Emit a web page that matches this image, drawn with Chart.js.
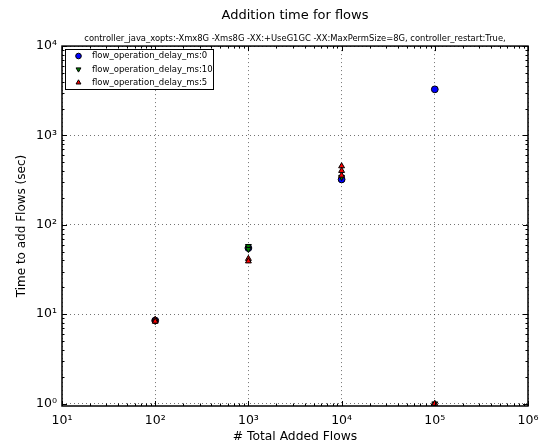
<!DOCTYPE html>
<html>
<head>
<meta charset="utf-8">
<script src="https://cdn.jsdelivr.net/npm/chart.js@4/dist/chart.umd.min.js"></script>
<style>
  html, body { margin: 0; padding: 0; background: #fff; }
</style>
</head>
<body>
<canvas id="flowChart" width="541" height="445"></canvas>
<script>
// series: delay setting, marker and colour
const seriesLabels = ["flow_operation_delay_ms:0", "flow_operation_delay_ms:10", "flow_operation_delay_ms:5"];
const seriesColors = ["#0000ff", "#008000", "#ff0000"];
const seriesMarkers = ["circle", "triangle", "triangle"];
const seriesRotation = [0, 180, 0];

// measured runs: number of flows added -> seconds
const delay0Flows = [100, 1000, 10000, 100000];
const delay0Times = [8.5, 55, 322, 3280];
const delay10Flows = [100, 1000, 1000, 10000, 100000];
const delay10Times = [8.4, 57.7, 53.4, 342, 1];
const delay5Flows = [100, 100, 1000, 1000, 10000, 10000, 10000, 100000];
const delay5Times = [8.7, 8.3, 41.8, 39.2, 454, 403, 357, 1];

const xDecades = [1e1, 1e2, 1e3, 1e4, 1e5, 1e6];
const yDecades = [1e0, 1e1, 1e2, 1e3, 1e4];

const seriesFlows = [delay0Flows, delay10Flows, delay5Flows];
const seriesTimes = [delay0Times, delay10Times, delay5Times];

const FONT = "'DejaVu Sans', sans-serif";
const SUP = "⁰¹²³⁴⁵⁶⁷⁸⁹";

function powLabel(v) {
  const e = Math.round(Math.log10(v));
  return "10" + String(e).split("").map((d) => SUP[+d]).join("");
}

// inward ticks on all four sides plus the black frame
const frameTicks = {
  id: "frameTicks",
  afterDatasetsDraw(chart) {
    const { ctx, chartArea: a, scales } = chart;
    ctx.save();
    ctx.strokeStyle = "#000";
    ctx.lineWidth = 1;
    ctx.beginPath();
    for (let d = 1; d <= 6; d++) {
      for (let m = 1; m <= 9; m++) {
        const v = m * Math.pow(10, d);
        if (v > 1e6) break;
        const px = Math.round(scales.x.getPixelForValue(v)) + 0.5;
        const len = m === 1 ? 5 : 2.5;
        ctx.moveTo(px, a.bottom); ctx.lineTo(px, a.bottom - len);
        ctx.moveTo(px, a.top); ctx.lineTo(px, a.top + len);
      }
    }
    for (let d = -1; d <= 4; d++) {
      for (let m = 1; m <= 9; m++) {
        const v = m * Math.pow(10, d);
        if (v < scales.y.min || v > scales.y.max) continue;
        const py = Math.round(scales.y.getPixelForValue(v)) + 0.5;
        const len = m === 1 ? 5 : 2.5;
        ctx.moveTo(a.left, py); ctx.lineTo(a.left + len, py);
        ctx.moveTo(a.right, py); ctx.lineTo(a.right - len, py);
      }
    }
    ctx.stroke();
    ctx.lineWidth = 1.5;
    ctx.strokeRect(a.left, a.top, a.right - a.left, a.bottom - a.top);
    ctx.restore();
  },
  afterDraw(chart) {
    // boxed legend in the upper-left corner of the axes
    const { ctx } = chart;
    ctx.save();
    ctx.fillStyle = "#fff";
    ctx.strokeStyle = "#000";
    ctx.lineWidth = 1;
    ctx.fillRect(65.5, 49.5, 148, 40);
    ctx.strokeRect(65.5, 49.5, 148, 40);
    ctx.font = "8.5px " + FONT;
    ctx.textBaseline = "middle";
    seriesLabels.forEach((label, i) => {
      const y = 56 + i * 13.3;
      ctx.fillStyle = seriesColors[i];
      ctx.strokeStyle = "#000";
      ctx.lineWidth = 1;
      Chart.helpers.drawPoint(ctx, {
        pointStyle: seriesMarkers[i],
        rotation: seriesRotation[i],
        radius: 2.8,
        borderWidth: 1,
      }, 78.5, y);
      ctx.fillStyle = "#000";
      ctx.fillText(label, 92, y);
    });
    ctx.restore();
  },
};

new Chart(document.getElementById("flowChart"), {
  type: "scatter",
  data: {
    datasets: seriesLabels.map((label, i) => ({
      label,
      data: seriesFlows[i].map((x, j) => ({ x, y: seriesTimes[i][j] })),
      pointStyle: seriesMarkers[i],
      rotation: seriesRotation[i],
      pointRadius: 3.4,
      pointBorderWidth: 1,
      pointBorderColor: "#000",
      pointBackgroundColor: seriesColors[i],
      showLine: false,
      clip: 0,
      order: 2 - i,
    })),
  },
  options: {
    responsive: false,
    animation: false,
    events: [],
    layout: { padding: { left: 0, right: 13, top: 0, bottom: 0 } },
    scales: {
      x: {
        type: "logarithmic",
        min: 10,
        max: 1e6,
        afterBuildTicks: (s) => { s.ticks = xDecades.map((v) => ({ value: v })); },
        afterFit: (s) => { s.height = 39; s.paddingLeft = 0; s.paddingRight = 0; },
        ticks: {
          callback: (v) => powLabel(v),
          font: { family: FONT, size: 12.5 },
          color: "#000",
          padding: 7,
          autoSkip: false,
          maxRotation: 0,
        },
        grid: { color: "rgba(0,0,0,0.55)", lineWidth: 1, drawTicks: false },
        border: { display: false, dash: [1, 3] },
        title: {
          display: true,
          text: "# Total Added Flows",
          font: { family: FONT, size: 12.3 },
          color: "#000",
          padding: { top: 0, bottom: 1 },
        },
      },
      y: {
        type: "logarithmic",
        min: 0.94,
        max: 1e4,
        afterBuildTicks: (s) => { s.ticks = yDecades.map((v) => ({ value: v })); },
        afterFit: (s) => { s.width = 62; s.paddingTop = 0; s.paddingBottom = 0; },
        ticks: {
          callback: (v) => powLabel(v),
          font: { family: FONT, size: 12.5 },
          color: "#000",
          padding: 5,
          autoSkip: false,
        },
        grid: { color: "rgba(0,0,0,0.55)", lineWidth: 1, drawTicks: false },
        border: { display: false, dash: [1, 3] },
        title: {
          display: true,
          text: "Time to add Flows (sec)",
          font: { family: FONT, size: 12 },
          color: "#000",
          padding: { top: 15, bottom: 0 },
        },
      },
    },
    plugins: {
      legend: { display: false },
      tooltip: { enabled: false },
      title: {
        display: true,
        fullSize: false,
        text: "Addition time for flows",
        font: { family: FONT, size: 13, weight: "normal" },
        color: "#000",
        padding: { top: 8, bottom: 7 },
      },
      subtitle: {
        display: true,
        fullSize: false,
        text: "controller_java_xopts:-Xmx8G -Xms8G -XX:+UseG1GC -XX:MaxPermSize=8G, controller_restart:True,",
        font: { family: FONT, size: 8.4 },
        color: "#000",
        padding: { top: 3.4, bottom: 2 },
      },
    },
  },
  plugins: [frameTicks],
});
</script>
</body>
</html>
